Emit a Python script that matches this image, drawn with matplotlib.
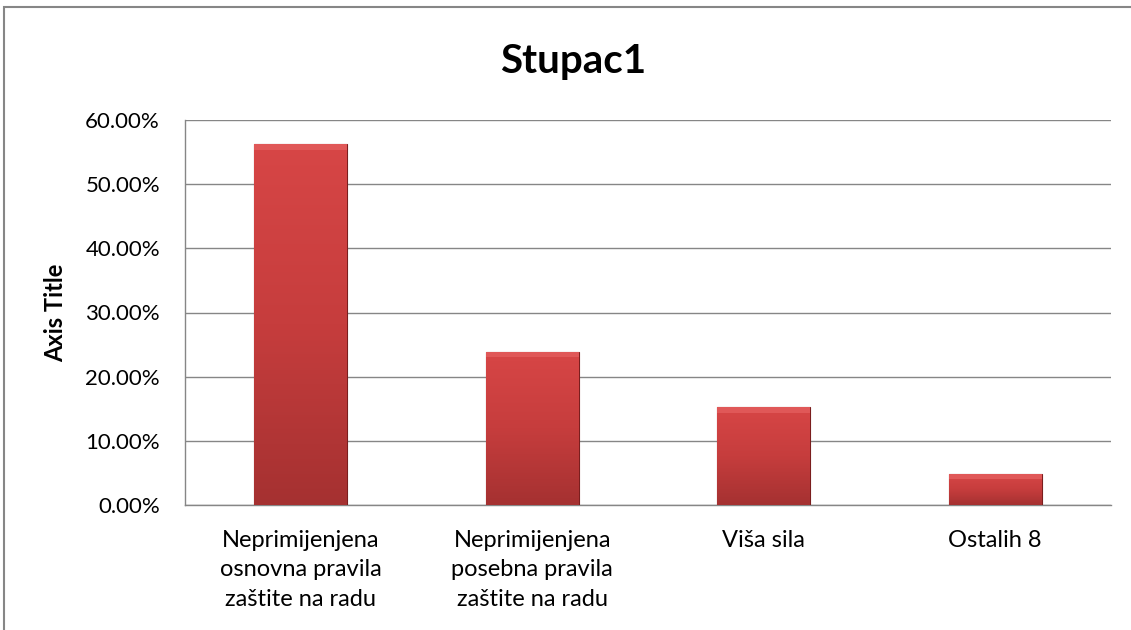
import numpy as np
import matplotlib
matplotlib.use("Agg")
import matplotlib.pyplot as plt
from matplotlib.patches import Rectangle
from matplotlib.ticker import FuncFormatter

plt.rcParams['font.family'] = ['Lato', 'DejaVu Sans']

# data
categories = ["Neprimijenjena\nosnovna pravila\nzaštite na radu",
              "Neprimijenjena\nposebna pravila\nzaštite na radu",
              "Viša sila",
              "Ostalih 8"]
values = [0.562, 0.238, 0.152, 0.048]
y_ticks = [0.0, 0.1, 0.2, 0.3, 0.4, 0.5, 0.6]

fig = plt.figure(figsize=(11.31, 6.3), dpi=100)
ax = fig.add_axes([185 / 1131, 1 - 505 / 630, (1111 - 185) / 1131, (505 - 120) / 630])

x = np.arange(len(categories))
bars = ax.bar(x, values, width=0.4, color='#c83b3b', edgecolor='#7a1e1e',
              linewidth=0.8, zorder=3)

# vertical gradient inside every bar (lighter top, darker bottom)
grad = np.linspace(0, 1, 256).reshape(-1, 1)
cmap = matplotlib.colors.LinearSegmentedColormap.from_list(
    "bar", ["#a53131", "#c63d3d", "#d74646"])
for b in bars:
    bx, by = b.get_x(), b.get_y()
    w, h = b.get_width(), b.get_height()
    im = ax.imshow(grad, extent=[bx, bx + w, by, by + h], origin='lower',
                   cmap=cmap, aspect='auto', zorder=3.5)
    im.set_clip_path(b)
    # lighter bevel band on the top edge
    ax.add_patch(Rectangle((bx, by + h - 0.008), w, 0.008, color='#e05858',
                           zorder=3.6, linewidth=0))

ax.set_xlim(-0.5, len(categories) - 0.5)
ax.set_ylim(0, 0.6)
ax.set_yticks(y_ticks)
ax.yaxis.set_major_formatter(FuncFormatter(lambda v, p: f"{v * 100:.2f}%"))
ax.set_xticks(x)
ax.set_xticklabels(categories, fontsize=17, linespacing=1.5)
ax.tick_params(axis='y', labelsize=16, length=0, pad=18)
ax.tick_params(axis='x', length=0, pad=18)

ax.grid(axis='y', color='#868686', linewidth=1, zorder=0)
for s in ['right', 'top']:
    ax.spines[s].set_visible(False)
for s in ['left', 'bottom']:
    ax.spines[s].set_color('#868686')
    ax.spines[s].set_linewidth(1)

ax.set_ylabel("Axis Title", fontsize=17, fontweight='bold')
ax.yaxis.set_label_coords(-(185 - 67) / 926, 0.5)
fig.text(573 / 1131, 1 - 62 / 630, "Stupac1", fontsize=29, fontweight='bold',
         ha='center', va='center')

# outer chart frame
frame = Rectangle((3.5 / 1131, -0.1), 1.2, 1 - 7.5 / 630 + 0.1,
                  transform=fig.transFigure, fill=False, edgecolor='#868686',
                  linewidth=1.5)
fig.patches.append(frame)

fig.savefig("out.png", dpi=100)
